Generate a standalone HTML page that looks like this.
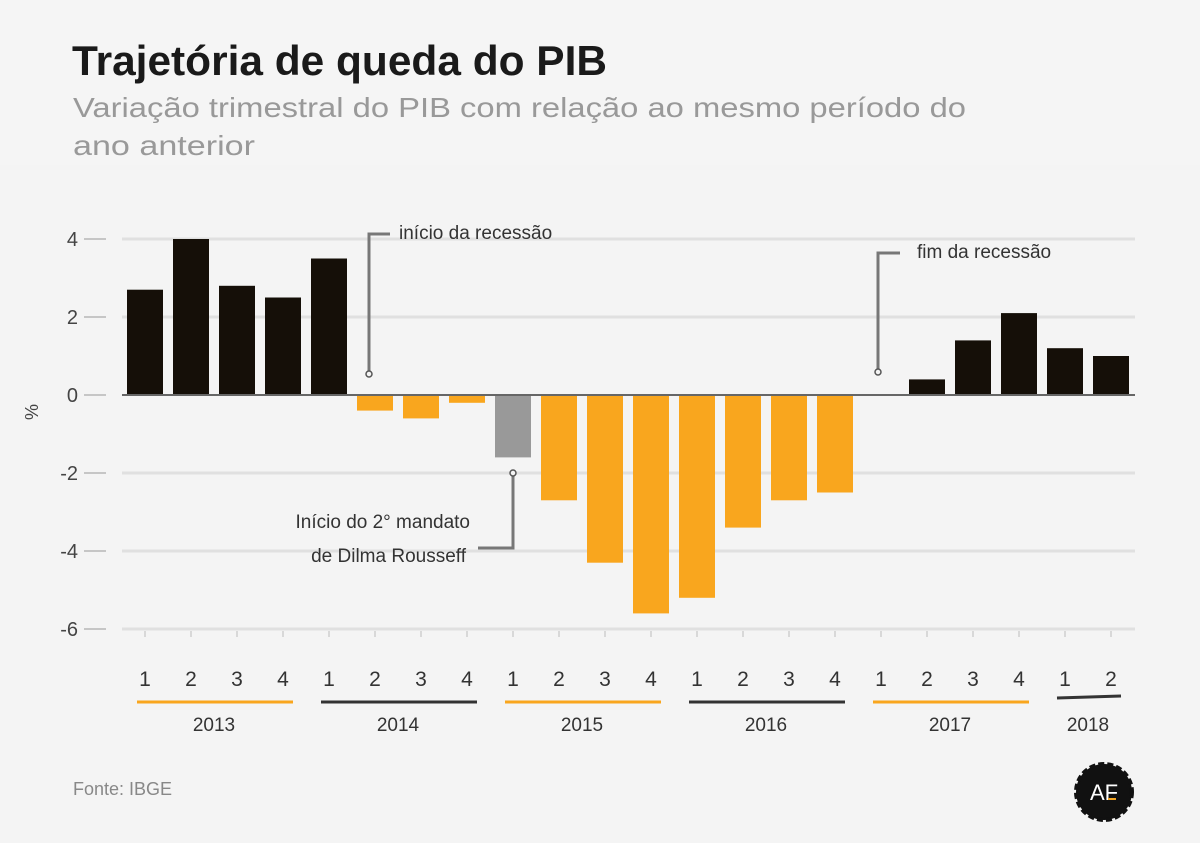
<!DOCTYPE html>
<html><head><meta charset="utf-8"><style>
body{margin:0;background:#f4f4f4;width:1200px;height:838px;overflow:hidden;font-family:"Liberation Sans",sans-serif}
</style></head><body>
<svg id="c" width="1200" height="838" xmlns="http://www.w3.org/2000/svg">
<rect width="1200" height="165" fill="#f5f5f5"/>
<text x="72" y="75" font-size="42" font-weight="bold" fill="#1a1a1a" textLength="535" lengthAdjust="spacingAndGlyphs">Trajetória de queda do PIB</text>
<text x="73" y="117" font-size="28" fill="#999" textLength="893" lengthAdjust="spacingAndGlyphs">Variação trimestral do PIB com relação ao mesmo período do</text>
<text x="73" y="155" font-size="28" fill="#999" textLength="182" lengthAdjust="spacingAndGlyphs">ano anterior</text>
<text x="38" y="420" font-size="18" fill="#444" transform="rotate(-90 38 420)">%</text>
<text x="73" y="795" font-size="18" fill="#888">Fonte: IBGE</text>
<g>
<circle cx="1104" cy="792" r="28" fill="#111" stroke="#111" stroke-width="4" stroke-dasharray="6 3"/>
<text x="1104" y="800" font-size="22" fill="#fff" text-anchor="middle">AF</text>
<rect x="1108" y="798" width="8" height="2" fill="#f5a623"/>
</g>
</svg>
<script>
const categories=["1","2","3","4","1","2","3","4","1","2","3","4","1","2","3","4","1","2","3","4","1","2"];
const years=["2013","2014","2015","2016","2017","2018"];
const values=[2.7,4.0,2.8,2.5,3.5,-0.4,-0.6,-0.2,-1.6,-2.7,-4.3,-5.6,-5.2,-3.4,-2.7,-2.5,0,0.4,1.4,2.1,1.2,1.0];
const yTicks=[4,2,0,-2,-4,-6];
const svg=document.getElementById('c');
const NS="http://www.w3.org/2000/svg";
function y(v){return 395-v*39;}
function x(i){return 145+i*46;}
function mk(t,a){const e=document.createElementNS(NS,t);for(const k in a)e.setAttribute(k,a[k]);svg.appendChild(e);return e;}
yTicks.forEach(v=>{
 if(v!==0){const g=mk('line',{x1:122,x2:1135,y1:y(v),y2:y(v),stroke:'#e0e0e0','stroke-width':3});
 
 }
 const tk=mk('line',{x1:84,x2:106,y1:y(v),y2:y(v),stroke:'#999','stroke-width':1});
 
 
 const t=mk('text',{x:78,y:y(v)+7,'font-size':20,fill:'#444','text-anchor':'end'});t.textContent=v;
 
 
});
values.forEach((v,i)=>{
 let col='#150f08'; if(v<0) col='#f9a61e'; if(i===8) col='#999';
 const r=mk('rect',{x:x(i)-18,width:36,y:Math.min(y(v),y(0)),height:Math.abs(y(v)-y(0)),fill:col});
 
 
 const tk=mk('line',{x1:x(i),x2:x(i),y1:631,y2:637,stroke:'#bbb','stroke-width':1});
 
 
 const t=mk('text',{x:x(i),y:686,'font-size':21,fill:'#333','text-anchor':'middle'});t.textContent=categories[i];
 
 
});
const z=mk('line',{x1:122,x2:1135,y1:y(0),y2:y(0),stroke:'#666','stroke-width':2});


years.forEach((yr,k)=>{
 const first=k*4,last=Math.min(k*4+3,categories.length-1);
 const col=k%2===0?'#f9a61e':'#333';
 const x1=x(first)-8,x2=x(last)+10;
 const l=mk('line',{x1:x1,x2:x2,y1:k===5?698:702,y2:k===5?696:702,stroke:col,'stroke-width':3});
 
 
 const t=mk('text',{x:(x(first)+x(last))/2,y:731,'font-size':19,fill:'#333','text-anchor':'middle'});t.textContent=yr;
 
 
});
function ann(pts,cx,cy,name){
 const p=mk('polyline',{points:pts,fill:'none',stroke:'#777','stroke-width':3});
 
 
 const c=mk('circle',{cx:cx,cy:cy,r:3,fill:'#f4f4f4',stroke:'#555','stroke-width':1.5});
 
 
}
ann('369,371 369,234 390,234',369,374,'recession-start');
ann('878,369 878,253 900,253',878,372,'recession-end');
ann('513,476 513,548 478,548',513,473,'dilma-term');
function lbl(tx,xx,yy,anc,name){const t=mk('text',{x:xx,y:yy,'font-size':19,fill:'#333','text-anchor':anc});t.textContent=tx;
 
 }
lbl('início da recessão',399,239,'start','recession-start-label');
lbl('fim da recessão',917,258,'start','recession-end-label');
lbl('Início do 2° mandato',470,528,'end','dilma-term-label-1');
lbl('de Dilma Rousseff',466,562,'end','dilma-term-label-2');
</script>
</body></html>
